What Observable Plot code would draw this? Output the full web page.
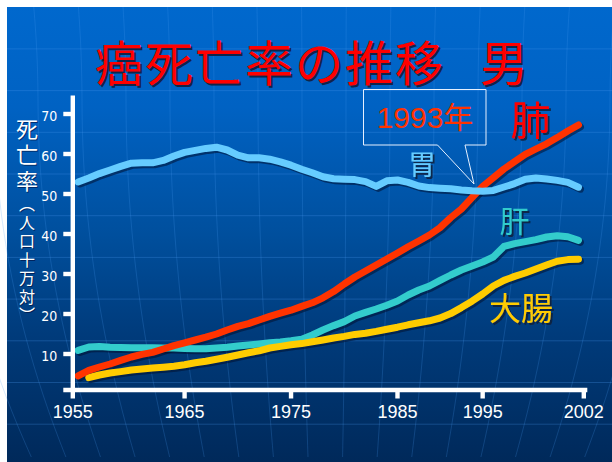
<!DOCTYPE html>
<html><head><meta charset="utf-8">
<script src="https://cdn.jsdelivr.net/npm/d3@7"></script>
<script src="https://cdn.jsdelivr.net/npm/@observablehq/plot@0.6"></script>
<style>
body{margin:0;background:#fff;}
#slide{position:relative;width:612px;height:462px;overflow:hidden;background:#fff;font-family:"Noto Sans CJK JP",sans-serif;}
#bg{position:absolute;left:7px;top:7px;width:605px;height:455px;background:linear-gradient(180deg,#0068cd 0%,#0062c3 22%,#004f9d 50%,#003b7b 72%,#00295a 100%);}
#deco{position:absolute;left:0;top:0}
#title{position:absolute;left:95px;top:34px;font-size:48px;line-height:52px;color:#ff0000;letter-spacing:2px;text-shadow:2px 2px 0 #10244a;white-space:nowrap;}
#ylab{position:absolute;left:15px;top:118px;writing-mode:vertical-rl;color:#fff;line-height:24px;white-space:nowrap;text-shadow:1px 1px 0 rgba(0,0,40,.5)}
#ylab .big{font-size:22px;letter-spacing:4px}
#ylab .small{font-size:16px;letter-spacing:2.5px}
#chart{position:absolute;left:0;top:0}
#callout{position:absolute;left:0;top:0}
#chart g[aria-label="text"]{filter:url(#tshadow)}
</style></head>
<body>
<div id="slide">
  <div id="bg"></div>
  <svg id="deco" width="612" height="462">
    <defs>
      <filter id="tshadow" x="-20%" y="-20%" width="140%" height="140%">
        <feDropShadow dx="2" dy="2" stdDeviation="0.3" flood-color="#0a1a3a" flood-opacity="0.85"/>
      </filter>
    </defs>
  </svg>
  <div id="title">癌死亡率の推移<span style="margin-left:35px">男</span></div>
  <div id="ylab"><span class="big">死亡率</span><span class="small">（人口十万対）</span></div>
  <div id="chart"></div>
  <svg id="callout" width="612" height="462">
    <path d="M363.5,89.5 H486 V145 H465 L474,184 L437.5,145 H363.5 Z" fill="none" stroke="#e6f0ff" stroke-width="1"/>
    <text x="425" y="117" text-anchor="middle" dominant-baseline="central" fill="#ff3300" font-size="30" font-family="Liberation Sans, Noto Sans CJK JP, sans-serif">1993年</text>
  </svg>
</div>
<script>
// ---- data ----
const years = d3.range(1955, 2003);
const lung = [4.55,5.9,6.75,7.5,8.4,9.25,9.9,10.4,11.25,12.1,12.8,13.5,14.2,15.0,16.0,16.9,17.6,18.5,19.4,20.2,20.95,21.9,22.8,24.05,25.6,27.5,29.25,30.75,32.25,33.75,35.25,36.8,38.25,39.75,41.6,44.1,46.25,49.1,51.9,54.05,56.25,58.1,59.9,61.25,62.55,64.1,65.75,67.25];
const stomach = [53.0,54.0,55.1,56.0,56.9,57.7,57.8,57.8,58.4,59.5,60.4,60.9,61.4,61.7,61.0,59.7,59.05,59.05,58.7,58.05,57.2,56.2,55.3,54.3,53.8,53.7,53.6,53.1,51.9,53.3,53.5,52.9,52.0,51.6,51.45,51.3,51.0,50.8,50.7,50.9,51.75,52.6,53.7,54.0,53.75,53.4,52.9,51.7];
const liver = [10.9,11.75,11.9,11.7,11.6,11.55,11.55,11.55,11.5,11.5,11.4,11.3,11.3,11.5,11.7,12.0,12.25,12.5,12.8,13.0,13.3,13.7,14.75,16.0,17.1,18.1,19.5,20.4,21.25,22.2,23.25,24.75,26.0,27.0,28.4,29.75,31.0,32.0,33.0,34.25,36.9,37.6,38.1,38.6,39.25,39.55,39.3,38.4];
const colorectal = [null,4.1,4.75,5.25,5.6,6.0,6.25,6.5,6.7,6.95,7.3,7.8,8.2,8.7,9.2,9.75,10.3,10.8,11.5,11.9,12.3,12.6,13.05,13.5,14.0,14.4,14.9,15.2,15.65,16.2,16.7,17.3,17.8,18.3,19.0,20.1,21.6,23.2,25.0,27.0,28.4,29.4,30.25,31.25,32.25,33.2,33.6,33.7];
const seriesNames = ["肝","大腸","肺","胃"];
const seriesValues = [liver, colorectal, lung, stomach];
const seriesColors = ["#33cccc","#ffcc00","#ff3300","#66ccff"];
const yTicks = [10,20,30,40,50,60,70];
const xTickLabels = ["1955","1965","1975","1985","1995","2002"];
const xTickPos = [1954.5,1965,1975,1985,1993,2002.5]; // where the slide draws them
const labelNames = ["肺","胃","肝","大腸"];
const labelYear = [1997.5,1987.3,1996.0,1996.6];
const labelValue = [67.9,56.9,42.9,21.1];

// ---- decorative globe lines ----
(function(){
  const g = d3.select("#deco");
  for (let y = 48.9; y < 462; y += 41.7) {
    g.append("line").attr("x1",7).attr("x2",612).attr("y1",y).attr("y2",y)
      .attr("stroke","#4a9af0").attr("stroke-opacity",0.28).attr("stroke-width",1);
  }
  const c = 330;
  for (let k = -4; k <= 15; k++) {
    const xt = 82 + 44*k;
    const pts = d3.range(7, 463, 15).map(y => {
      const t = (y - 100)/362;
      const s = 1 - 0.22*t*Math.abs(t);
      return [c + (xt - c)*s, y];
    });
    g.append("path").attr("d", d3.line().curve(d3.curveBasis)(pts)).attr("fill","none")
      .attr("stroke","#4a9af0").attr("stroke-opacity",0.22).attr("stroke-width",1);
  }
})();

// ---- build table ----
const rows = [];
seriesNames.forEach((name, i) => {
  seriesValues[i].forEach((v, j) => rows.push({name, year: years[j], value: v}));
});
const labelMap = new Map(xTickPos.map((p, i) => [p, xTickLabels[i]]));
const labelStyle = {"肺":{size:40,color:"#ff0000"},"胃":{size:28,color:"#66ccff"},"肝":{size:30,color:"#33cccc"},"大腸":{size:32,color:"#ffcc00"}};
const labels = labelNames.map((n, i) => ({name: n, year: labelYear[i], value: labelValue[i]}));

const textMarks = labels.map(l => {
  const st = labelStyle[l.name];
  return Plot.text([l], {x:"year", y:"value", text:"name", fontSize: st.size, fill: st.color, fontFamily:"Noto Sans CJK JP"});
});

const chart = Plot.plot({
  width: 612, height: 462,
  marginLeft: 72.3, marginRight: 28.7, marginTop: 95.5, marginBottom: 72.5,
  style: {background: "transparent", overflow: "visible", color: "white"},
  x: {type: "linear", domain: [1954.5, 2002.5]},
  y: {domain: [1, 74.5]},
  color: {domain: seriesNames, range: seriesColors},
  marks: [
    Plot.line(rows, {x:"year", y:"value", z:"name", stroke:"#001030", strokeOpacity:0.55, strokeWidth:7, dx:2, dy:2, strokeLinecap:"round", strokeLinejoin:"round"}),
    Plot.line(rows, {x:"year", y:"value", z:"name", stroke:"name", strokeWidth:7, strokeLinecap:"round", strokeLinejoin:"round"}),
    Plot.ruleX([1954.5], {stroke:"white", strokeWidth:4.4}),
    Plot.ruleY([1], {stroke:"white", strokeWidth:4.4, insetLeft:-9, insetRight:-4}),
    Plot.axisY(yTicks, {tickSize:9, strokeWidth:4.4, tickFormat: () => "", label:null}),
    Plot.axisY(yTicks, {tickSize:0, tickPadding:15.5, dy:3, fontSize:14, fontFamily:"Liberation Sans Narrow, DejaVu Sans Condensed, Liberation Sans, sans-serif", label:null}),
    Plot.axisX(xTickPos, {tickSize:9, strokeWidth:4.4, tickPadding:6, fontSize:18, fontFamily:"Liberation Sans, sans-serif", tickFormat: d => labelMap.get(d), label:null}),
    ...textMarks
  ]
});
document.getElementById("chart").appendChild(chart);
</script>
</body></html>
